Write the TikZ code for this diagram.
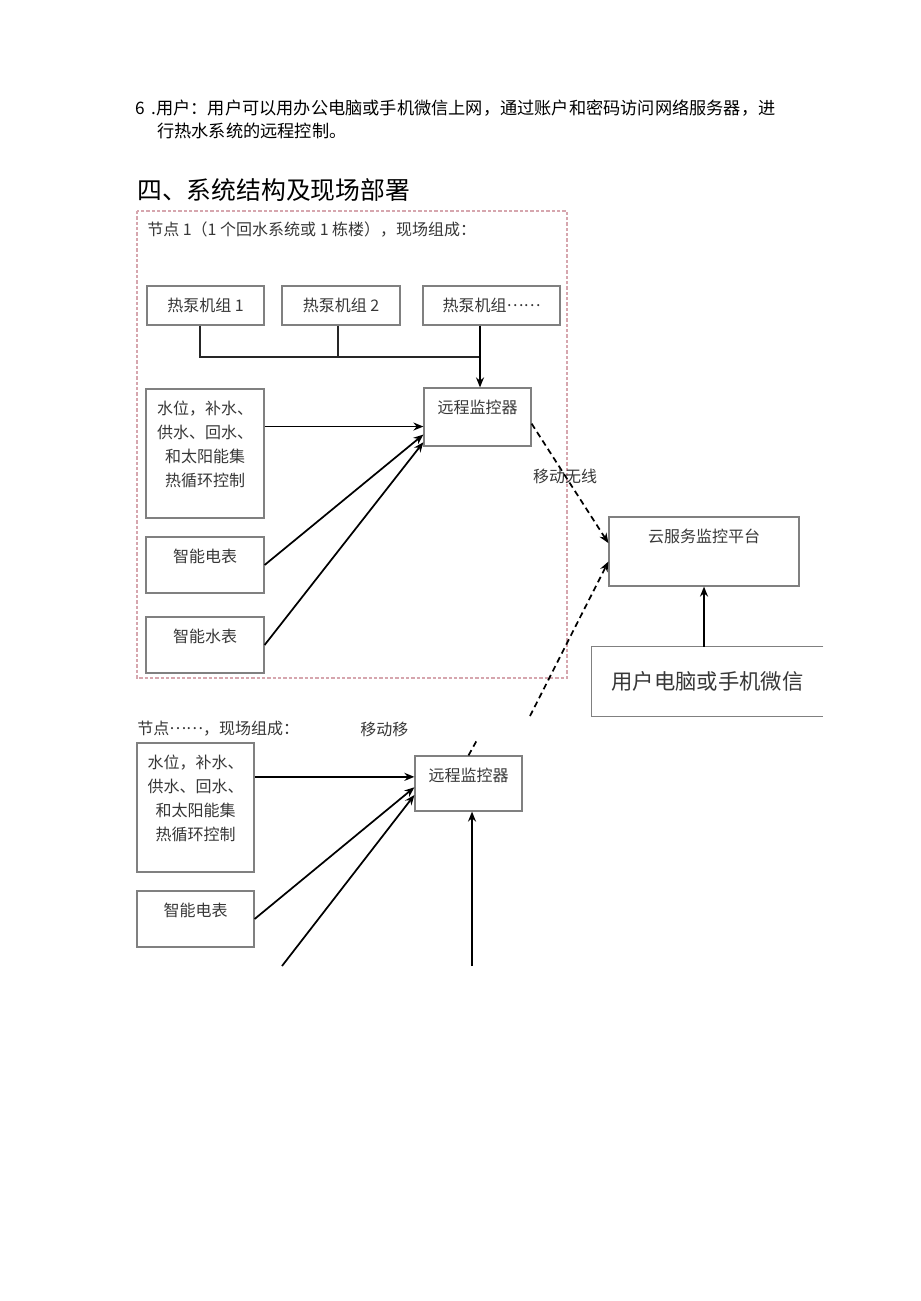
\documentclass[tikz,border=0pt]{standalone}
\usepackage{fontspec}
\setmainfont{Noto Sans CJK SC}
\usetikzlibrary{arrows.meta}
\definecolor{boxgray}{RGB}{128,128,128}
\definecolor{txtgray}{RGB}{55,55,55}
\definecolor{framepink}{RGB}{214,166,174}
\newcommand{\midDots}{\raisebox{0.32em}{……}}

\begin{document}
\begin{tikzpicture}[x=0.75pt, y=-0.75pt,
  box/.style={draw=boxgray, line width=0.9pt, rectangle, inner sep=0pt, text=txtgray, font=\fontsize{12pt}{18pt}\selectfont},
  intext/.style={anchor=north, align=center, inner sep=0pt, yshift=-9.5pt, text=txtgray, font=\fontsize{12pt}{18pt}\selectfont},
  plain/.style={anchor=west, inner sep=0pt, text=txtgray, font=\fontsize{12pt}{14pt}\selectfont},
  wire/.style={line width=1.2pt, draw=black!85},
  arr/.style={line width=1.3pt, -{Stealth[length=7.5pt, width=6pt]}},
  radio/.style={line width=1.3pt, dash pattern=on 4.5pt off 3pt, -{Stealth[length=7.5pt, width=6pt]}},
  radiocut/.style={line width=1.3pt, dash pattern=on 4.5pt off 3pt}]
\useasboundingbox (0,0) rectangle (920,1301);

% text above the diagram
\node[anchor=west, inner sep=0pt, font=\fontsize{12.9pt}{16pt}\selectfont] (itemSix) at (135,108) {6\hspace{5pt}.用户：用户可以用办公电脑或手机微信上网，通过账户和密码访问网络服务器，进};
\node[anchor=west, inner sep=0pt, font=\fontsize{12.9pt}{16pt}\selectfont] (itemSixB) at (157,131) {行热水系统的远程控制。};
\node[anchor=west, inner sep=0pt, font=\fontsize{18.6pt}{22pt}\selectfont] (heading) at (137,190) {四、系统结构及现场部署};

% node 1
\draw[framepink, line width=0.8pt, dash pattern=on 2.5pt off 1.5pt] (137,211) rectangle (567,678);
\node[plain] (nodeOne) at (147,230) {节点 1（1 个回水系统或 1 栋楼），现场组成：};

\node[box, minimum width=87.75pt, minimum height=29.25pt] (hpA) at (205.5,305.5) {热泵机组 1};
\node[box, minimum width=88.5pt, minimum height=29.25pt] (hpB) at (341,305.5) {热泵机组 2};
\node[box, minimum width=102.75pt, minimum height=29.25pt] (hpC) at (491.5,305.5) {热泵机组\midDots};

\node[box, minimum width=88.5pt, minimum height=96.75pt, label={[intext]north:{水位，补水、\\供水、回水、\\和太阳能集\\热循环控制}}] (ctrl) at (205,453.5) {};
\node[box, minimum width=88.5pt, minimum height=42pt, label={[intext]north:{智能电表}}] (elecM) at (205,565) {};
\node[box, minimum width=88.5pt, minimum height=42pt, label={[intext]north:{智能水表}}] (waterM) at (205,645) {};
\node[box, minimum width=80.25pt, minimum height=43.5pt, label={[intext]north:{远程监控器}}] (remote) at (477.5,417) {};

\coordinate (bus) at (480,357);
\draw[wire] (hpA.south -| 200,0) |- (bus);
\draw[wire] (hpB.south -| 338,0) -- (338,357);
\draw[arr] (hpC.south -| bus) -- (remote.north -| bus);
\draw[arr] (ctrl.east |- remote.190) -- (remote.190);
\draw[arr] (elecM.east) -- (remote.198);
\draw[arr] (waterM.east) -- (remote.205);

% cloud side
\node[box, minimum width=142.5pt, minimum height=51.75pt, label={[intext]north:{云服务监控平台}}] (cloud) at (704,551.5) {};
\node[inner sep=0pt, minimum width=173.25pt, minimum height=51.75pt, text=txtgray, font=\fontsize{16pt}{18pt}\selectfont] (user) at (707.5,681.5) {用户电脑或手机微信};
\draw[draw=boxgray, line width=0.9pt] (user.north east) -- (user.north west) -- (user.south west) -- (user.south east);

\draw[radio] (remote.353) -- (cloud.175);
\node[inner sep=0pt, text=txtgray, font=\fontsize{12pt}{14pt}\selectfont] (wireless) at (565,476) {移动无线};
\draw[arr] (cloud.south |- user.north) -- (cloud.south);

\coordinate (gapUp) at (530,716);
\draw[radio] (gapUp) -- (cloud.186);

% node ......
\node[plain] (nodeMore) at (137,729) {节点\midDots，现场组成：};
\node[plain] (moveMore) at (360,729) {移动移};

\node[box, minimum width=87.75pt, minimum height=96.75pt, label={[intext]north:{水位，补水、\\供水、回水、\\和太阳能集\\热循环控制}}] (ctrlB) at (195.5,807.5) {};
\node[box, minimum width=87.75pt, minimum height=42pt, label={[intext]north:{智能电表}}] (elecB) at (195.5,919) {};
\node[box, minimum width=80.25pt, minimum height=41.25pt, label={[intext]north:{远程监控器}}] (remoteB) at (468.5,783.5) {};

\coordinate (gapLo) at (477,740);
\coordinate (cutA) at (282,966);
\coordinate (cutB) at (472,966);
\draw[radiocut] (remoteB.north) -- (gapLo);
\draw[arr] (ctrlB.east |- remoteB.173) -- (remoteB.173);
\draw[arr] (elecB.east) -- (remoteB.184);
\draw[arr] (cutA) -- (remoteB.192);
\draw[arr] (cutB) -- (cutB |- remoteB.south);
\end{tikzpicture}
\end{document}
